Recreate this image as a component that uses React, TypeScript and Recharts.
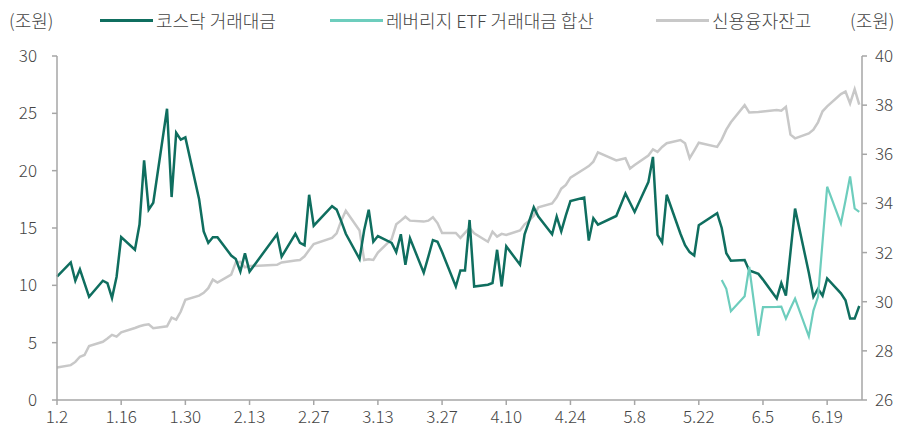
import { CartesianGrid, Line, LineChart, XAxis, YAxis } from 'recharts';

// trading days, 2026 (M.D)
const dates = [
  '1.2', '1.5', '1.6', '1.7', '1.8', '1.9', '1.12', '1.13', '1.14', '1.15', '1.16', '1.19', '1.20', '1.21', '1.22', '1.23', '1.26', '1.27', '1.28', '1.29', '1.30',
  '2.2', '2.3', '2.4', '2.5', '2.6', '2.9', '2.10', '2.11', '2.12', '2.13', '2.19', '2.20', '2.23', '2.24', '2.25', '2.26', '2.27',
  '3.3', '3.4', '3.5', '3.6', '3.9', '3.10', '3.11', '3.12', '3.13', '3.16', '3.17', '3.18', '3.19', '3.20', '3.23', '3.24', '3.25', '3.26', '3.27', '3.30', '3.31',
  '4.1', '4.2', '4.3', '4.6', '4.7', '4.8', '4.9', '4.10', '4.13', '4.14', '4.15', '4.16', '4.17', '4.20', '4.21', '4.22', '4.23', '4.24', '4.27', '4.28', '4.29', '4.30',
  '5.4', '5.6', '5.7', '5.8', '5.11', '5.12', '5.13', '5.14', '5.15', '5.18', '5.19', '5.20', '5.21', '5.22', '5.26', '5.27', '5.28', '5.29',
  '6.1', '6.2', '6.4', '6.5', '6.8', '6.9', '6.10', '6.11', '6.12', '6.15', '6.16', '6.17', '6.18', '6.19', '6.22', '6.23', '6.24', '6.25', '6.26',
];

// 코스닥 거래대금 (조원, left axis)
const kosdaq = [
  10.75, 12.0, 10.4, 11.4, 10.2, 9.0, 10.4, 10.2, 8.9, 10.75, 14.2, 13.1, 15.3, 20.9, 16.6, 17.2, 25.4, 17.7, 23.3, 22.7, 22.9,
  17.5, 14.7, 13.7, 14.2, 14.2, 12.6, 12.3, 11.2, 12.8, 11.2, 14.45, 12.5, 14.5, 13.7, 13.5, 17.9, 15.2,
  16.9, 16.6, 15.6, 14.5, 12.3, 14.8, 16.6, 13.8, 14.3, 13.7, 12.9, 14.45, 11.8, 14.1, 11.1, 12.5, 13.95, 13.8, 12.9, 9.9, 11.3,
  11.3, 15.7, 9.9, 10.05, 10.2, 13.1, 9.9, 13.4, 11.8, 14.45, 15.6, 16.8, 16.0, 14.45, 16.0, 14.7, 16.1, 17.35, 17.65, 13.9, 15.85, 15.3,
  16.05, 18.0, 17.2, 16.4, 19.0, 21.2, 14.4, 13.75, 17.9, 14.5, 13.5, 12.9, 12.6, 15.25, 16.3, 15.0, 12.8, 12.15,
  12.2, 11.3, 11.0, 10.5, 8.85, 10.2, 9.1, 12.9, 16.7, 11.1, 9.0, 9.7, 9.1, 10.6, 9.3, 8.7, 7.1, 7.1, 8.2,
];

// 레버리지 ETF 거래대금 합산 (조원, left axis), from 5.27
const leverageStart = '5.27';
const leverage = [
  10.47, 9.7, 7.75,
  9.05, 11.6, 5.6, 8.1, 8.12, 8.15, 7.1, 8.0, 8.85, 5.55, 7.8, 9.0, 13.8, 18.6, 15.4, 17.4, 19.5, 16.7, 16.4,
];

// 신용융자잔고 (조원, right axis)
const creditBalance = [
  27.32, 27.42, 27.55, 27.76, 27.83, 28.2, 28.37, 28.5, 28.65, 28.58, 28.75, 28.93, 29.0, 29.05, 29.08, 28.92, 29.0, 29.35, 29.27, 29.6, 30.08,
  30.25, 30.36, 30.55, 30.9, 30.78, 31.1, 31.6, 31.62, 31.4, 31.45, 31.5, 31.6, 31.68, 31.7, 31.85, 32.1, 32.35,
  32.6, 32.78, 33.3, 33.7, 32.9, 31.7, 31.73, 31.7, 32.0, 32.55, 33.15, 33.3, 33.46, 33.3, 33.26, 33.3, 33.44, 33.2, 32.8, 32.8, 32.6,
  32.8, 33.0, 32.78, 32.44, 32.85, 32.65, 32.76, 32.72, 32.9, 33.15, 33.3, 33.5, 33.84, 34.0, 34.25, 34.6, 34.75, 35.05, 35.4, 35.52, 35.7, 36.08,
  35.75, 35.84, 35.42, 35.56, 35.95, 36.2, 36.1, 36.3, 36.45, 36.58, 36.45, 35.84, 36.15, 36.47, 36.3, 36.6, 37.0, 37.3,
  38.0, 37.7, 37.72, 37.74, 37.8, 37.77, 37.93, 36.8, 36.65, 36.85, 37.0, 37.3, 37.75, 37.95, 38.45, 38.55, 38.07, 38.65, 38.02,
];

const tickLabels = ['1.2', '1.16', '1.30', '2.13', '2.27', '3.13', '3.27', '4.10', '4.24', '5.8', '5.22', '6.5', '6.19'];
const leftTicks = [0, 5, 10, 15, 20, 25, 30];
const rightTicks = [26, 28, 30, 32, 34, 36, 38, 40];

const GREEN = '#0f6e5f';
const TEAL = '#6dcdbd';
const GRAY = '#c8c8c8';
const AXIS = '#a6a6a6';
const TEXT = '#454545';
const FONT = '"Noto Sans CJK KR", "Noto Sans", sans-serif';

const base = Date.UTC(2026, 0, 2);
const dayOf = (md: string) => {
  const [m, d] = md.split('.').map(Number);
  return Math.round((Date.UTC(2026, m - 1, d) - base) / 86400000);
};

const levIdx = dates.indexOf(leverageStart);
const data = dates.map((d, i) => ({
  t: dayOf(d),
  kosdaq: kosdaq[i],
  lev: i >= levIdx ? leverage[i - levIdx] : null,
  credit: creditBalance[i],
}));
const tickDays = tickLabels.map(dayOf);

function LegendItem({ x, color, label }: { x: number; color: string; label: string }) {
  return (
    <div style={{ position: 'absolute', left: x, top: 7, display: 'flex', alignItems: 'center', whiteSpace: 'nowrap' }}>
      <span style={{ display: 'inline-block', width: 53, height: 3, background: color, marginRight: 3 }} />
      <span>{label}</span>
    </div>
  );
}

export default function App() {
  const tick = { fontSize: 17, fill: TEXT, fontFamily: FONT, fontWeight: 300 };
  return (
    <div style={{ position: 'absolute', left: 0, top: 0, width: 910, height: 430, background: '#fff', fontFamily: FONT, fontSize: 18, fontWeight: 300, color: TEXT }}>
      <div style={{ position: 'absolute', left: 9, top: 7 }}>(조원)</div>
      <LegendItem x={100} color={GREEN} label="코스닥 거래대금" />
      <LegendItem x={330} color={TEAL} label="레버리지 ETF 거래대금 합산" />
      <LegendItem x={656} color={GRAY} label="신용융자잔고" />
      <div style={{ position: 'absolute', left: 850, top: 7 }}>(조원)</div>
      <LineChart width={910} height={430} data={data} margin={{ top: 56, right: 0, bottom: 0, left: 0 }}>
        <CartesianGrid vertical={false} horizontal={false} />
        <XAxis
          dataKey="t"
          type="number"
          domain={[0, 175.6]}
          ticks={tickDays}
          tickFormatter={(v: number) => tickLabels[tickDays.indexOf(v)] ?? ''}
          height={30}
          tick={tick}
          tickSize={5}
          tickMargin={6}
          axisLine={{ stroke: AXIS, strokeWidth: 1.5 }}
          tickLine={{ stroke: AXIS, strokeWidth: 1.5 }}
          interval={0}
        />
        <YAxis
          yAxisId="left"
          orientation="left"
          domain={[0, 30]}
          ticks={leftTicks}
          width={57}
          tick={tick}
          tickSize={5}
          tickMargin={15}
          axisLine={{ stroke: AXIS, strokeWidth: 1.5 }}
          tickLine={{ stroke: AXIS, strokeWidth: 1.5 }}
          interval={0}
        />
        <YAxis
          yAxisId="right"
          orientation="right"
          domain={[26, 40]}
          ticks={rightTicks}
          width={48}
          tick={tick}
          tickSize={5}
          tickMargin={8}
          axisLine={{ stroke: AXIS, strokeWidth: 1.5 }}
          tickLine={{ stroke: AXIS, strokeWidth: 1.5 }}
          interval={0}
        />
        <Line yAxisId="right" dataKey="credit" stroke={GRAY} strokeWidth={2.5} dot={false} isAnimationActive={false} />
        <Line yAxisId="left" dataKey="kosdaq" stroke={GREEN} strokeWidth={2.5} dot={false} isAnimationActive={false} />
        <Line yAxisId="left" dataKey="lev" stroke={TEAL} strokeWidth={2.2} dot={false} isAnimationActive={false} />
      </LineChart>
    </div>
  );
}
